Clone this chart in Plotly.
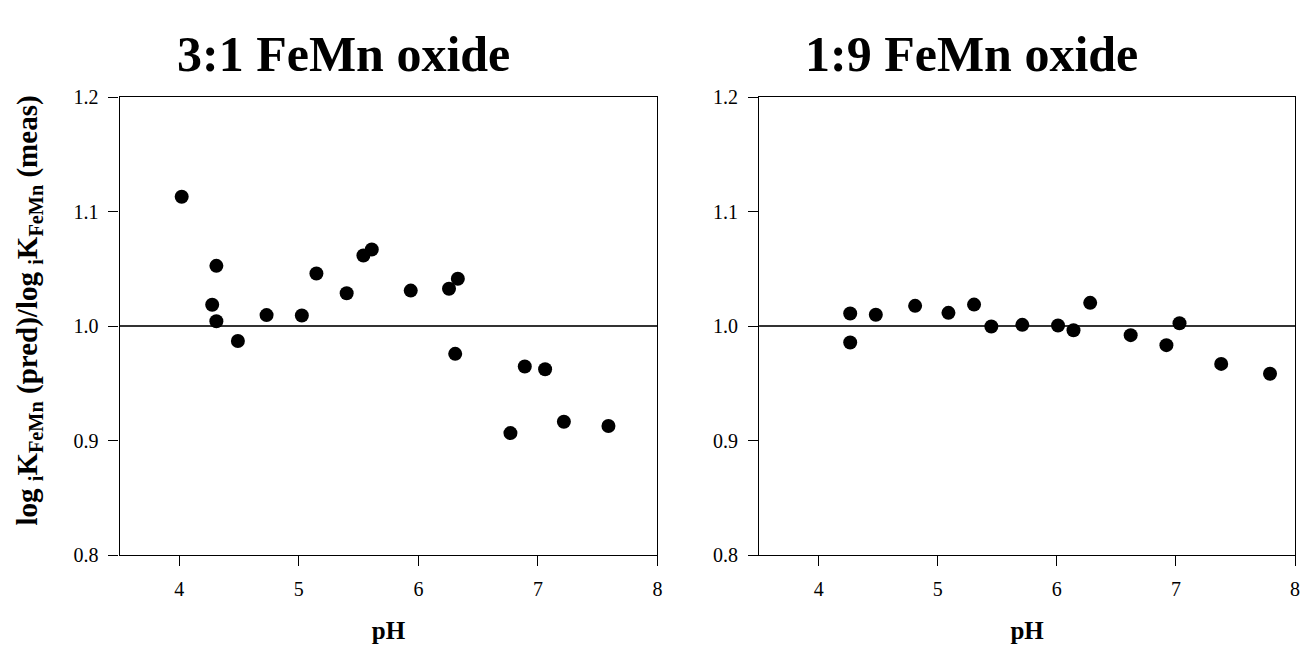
import plotly.graph_objects as go

# 3:1 FeMn oxide: pH vs. ratio of predicted to measured log iK
ph_31 = [4.02, 4.275, 4.31, 4.31, 4.49, 4.73, 5.025, 5.147, 5.40, 5.54, 5.61,
         5.936, 6.256, 6.308, 6.33, 6.77, 6.89, 7.06, 7.217, 7.59]
ratio_31 = [1.113, 1.0186, 1.0526, 1.0042, 0.987, 1.0096, 1.0093, 1.046, 1.0287,
            1.0616, 1.0669, 1.031, 1.0326, 0.9758, 1.0413, 0.9066, 0.9648,
            0.9623, 0.9165, 0.9128]

# 1:9 FeMn oxide
ph_19 = [4.265, 4.265, 4.48, 4.81, 5.09, 5.305, 5.45, 5.71, 6.01, 6.14, 6.28,
         6.62, 6.92, 7.03, 7.38, 7.79]
ratio_19 = [1.011, 0.9857, 1.0099, 1.0177, 1.0116, 1.0188, 0.9997, 1.0011,
            1.0006, 0.9964, 1.0203, 0.9921, 0.9834, 1.0025, 0.967, 0.9584]

titles = ["3:1 FeMn oxide", "1:9 FeMn oxide"]
x_ticks = [4, 5, 6, 7, 8]
y_ticks = [0.8, 0.9, 1.0, 1.1, 1.2]
x_range = [3.5, 8]
y_range = [0.8, 1.2]
ref_level = 1.0

W, H = 1308, 659
SERIF = "Liberation Serif, Times New Roman, serif"

fig = go.Figure()

# panel placement in pixels
panels = [(120, 660), (762, 1300)]
title_centers = [345, 975]
top_px, bot_px = 89, 563
ydom = [1 - bot_px / H, 1 - top_px / H]

data = [(ph_31, ratio_31), (ph_19, ratio_19)]
for i, ((x0, x1), (xs, ys)) in enumerate(zip(panels, data)):
    n = "" if i == 0 else str(i + 1)
    fig.add_trace(go.Scatter(
        x=xs, y=ys, mode="markers",
        marker=dict(color="black", size=14, line=dict(width=0)),
        xaxis="x" + n, yaxis="y" + n, showlegend=False, cliponaxis=False))

    axis_common = dict(
        showgrid=False, zeroline=False, showline=True, linecolor="black",
        linewidth=1.3, mirror=True, ticks="outside", ticklen=10, tickwidth=1,
        tickcolor="black", tickfont=dict(family=SERIF, size=20, color="black"),
        ticklabelstandoff=6)
    fig.layout["xaxis" + n] = dict(
        axis_common, domain=[x0 / W, x1 / W], range=x_range,
        tickvals=x_ticks, anchor="y" + n,
        title=dict(text="<b>pH</b>", font=dict(family=SERIF, size=25, color="black"),
                   standoff=22))
    fig.layout["yaxis" + n] = dict(
        axis_common, domain=ydom, range=y_range, tickvals=y_ticks,
        tickformat=".1f", anchor="x" + n)

    # horizontal reference line at ratio = 1
    fig.add_shape(type="line", xref=f"x{n} domain", yref="y" + n,
                  x0=0, x1=1, y0=ref_level, y1=ref_level,
                  line=dict(color="#333333", width=2), layer="below")

    # panel title
    fig.add_annotation(text="<b>" + titles[i] + "</b>", xref="paper", yref="paper",
                       x=title_centers[i] / W, y=1 - 45 / H, xanchor="center",
                       yanchor="middle", showarrow=False,
                       font=dict(family=SERIF, size=50, color="black"))

# y-axis label for the left panel
fig.add_annotation(
    text="<b>log <sub>i</sub>K<sub>FeMn</sub> (pred)/log <sub>i</sub>K<sub>FeMn</sub> (meas)</b>",
    xref="paper", yref="paper", x=29 / W, y=1 - 310 / H, textangle=-90,
    xanchor="center", yanchor="middle", showarrow=False,
    font=dict(family=SERIF, size=29, color="black"))

fig.update_layout(
    width=W, height=H, margin=dict(l=0, r=0, t=0, b=0),
    paper_bgcolor="white", plot_bgcolor="white")

fig.write_html("out.html")
